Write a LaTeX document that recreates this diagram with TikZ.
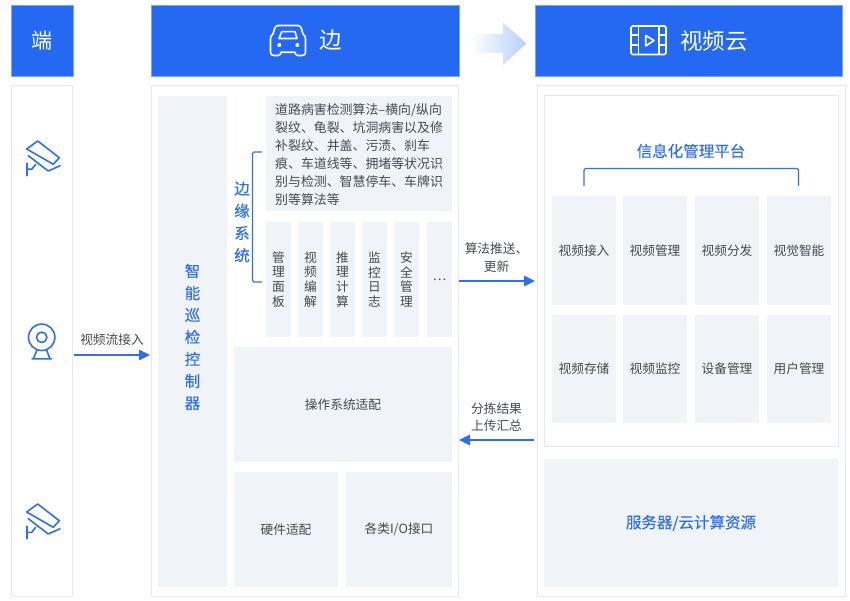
\documentclass[tikz,border=0pt]{standalone}
\usepackage{fontspec}
\setmainfont{Noto Sans CJK SC}
\newfontfamily\bluefont[FakeBold=0.3]{Noto Sans CJK SC}
\usetikzlibrary{arrows.meta}
\definecolor{headblue}{HTML}{2569F2}
\definecolor{linkblue}{HTML}{2F6FEB}
\definecolor{panelline}{HTML}{E4E9F0}
\definecolor{cellgray}{HTML}{F0F3F7}
\definecolor{textgray}{HTML}{444A52}
\tikzset{
   headbox/.style={fill=headblue,draw=headblue!60,line width=.5pt,inner sep=0pt,outer sep=0pt},
   panelbox/.style={fill=white,draw=panelline,line width=1pt,inner sep=0pt,outer sep=0pt},
   cellbox/.style={fill=cellgray,inner sep=0pt,outer sep=0pt,text=textgray,font=\fontsize{12.7}{15}\selectfont,align=center},
   vertcell/.style={cellbox,minimum width=25,minimum height=115,font=\fontsize{12.7}{14.7}\selectfont},
   gridcell/.style={cellbox,minimum width=64.5,minimum height=108},
   headtext/.style={text=white,font=\fontsize{22.5}{26}\selectfont,inner sep=0pt},
   bluetext/.style={text=linkblue,inner sep=0pt,align=center},
   graytext/.style={text=textgray,inner sep=0pt,align=center,font=\fontsize{12.7}{17.5}\selectfont},
   flow/.style={linkblue,line width=1.3pt,-{Triangle[length=11pt,width=10.5pt]}},
   bracket/.style={linkblue,line width=1.2pt,rounded corners=1.5pt},
   icon/.style={line width=1.6pt,line join=round,line cap=round},
   pics/roadcam/.style={code={
      \draw[icon,linkblue] (-4.3,-17) -- (17.3,-.3) -- (11.3,6.3) -- (-15.3,-9) -- cycle;
      \draw[icon,linkblue] (-13.7,-2.3) -- (6.3,13) -- (18,7.7);
      \draw[icon,linkblue] (-15.3,5.3) -- (-15.3,17.7);
      \draw[icon,linkblue] (-15.3,11.3) -- (-10.3,11.3) -- (-6.3,6.3);
   }},
}
\begin{document}
\begin{tikzpicture}[x=1pt,y=-1pt]
   \useasboundingbox (0,0) rectangle (850,601);

   % headers
   \node[headbox,minimum width=62,minimum height=71] (duanhead) at (42,40.5) {};
   \node[headbox,minimum width=308,minimum height=71] (bianhead) at (305,40.5) {};
   \node[headbox,minimum width=307,minimum height=71] (yunhead) at (688.5,40.5) {};
   \node[headtext,font=\fontsize{21}{25}\selectfont] (duantext) at (42,40.5) {端};
   \node[headtext] (biantext) at (331,40.5) {边};
   \node[headtext] (yuntext) at (714,40.5) {视频云};

   % outer panels
   \node[panelbox,minimum width=61,minimum height=510] (duanpanel) at (42,341) {};
   \node[panelbox,minimum width=307,minimum height=510] (bianpanel) at (304.5,341) {};
   \node[panelbox,minimum width=308,minimum height=510] (yunpanel) at (691,341) {};
   \node[panelbox,minimum width=294,minimum height=350] (infopanel) at (691,271) {};

   % edge side
   \node[cellbox,minimum width=69,minimum height=491] (ctrl) at (192.5,341.5) {};
   \node[bluetext,font=\bluefont\fontsize{15.5}{22}\selectfont] (ctrltext) at (192.5,337) {智\\能\\巡\\检\\控\\制\\器};
   \node[cellbox,minimum width=186,minimum height=115] (algo) at (359,153.5) {};
   \node[graytext,font=\fontsize{12.9}{18}\selectfont,align=left,anchor=north west] (algotext) at (275,103.5)
      {道路病害检测算法--横向/纵向\\裂纹、龟裂、坑洞病害以及修\\补裂纹、井盖、污渍、刹车\\痕、车道线等、拥堵等状况识\\别与检测、智慧停车、车牌识\\别等算法等};
   \node[bluetext,font=\bluefont\fontsize{15.5}{22.3}\selectfont] (sys) at (242,222) {边\\缘\\系\\统};
   \foreach \x/\n/\t in {278.5/a/管\\理\\面\\板,310.5/b/视\\频\\编\\解,342.5/c/推\\理\\计\\算,374.5/d/监\\控\\日\\志,406.5/e/安\\全\\管\\理,439.5/f/…}
   {
      \node[vertcell] (mod\n) at (\x,279.5) {\t};
   }
   \node[cellbox,minimum width=218,minimum height=115] (os) at (343,404.5) {操作系统适配};
   \node[cellbox,minimum width=104,minimum height=115] (hw) at (286,529.5) {硬件适配};
   \node[cellbox,minimum width=106,minimum height=115] (io) at (399,529.5) {各类I/O接口};
   \draw[bracket] (262,152) -- (252.5,152) -- (252.5,282) -- (262,282);

   % cloud side
   \node[bluetext,font=\bluefont\fontsize{15.5}{18}\selectfont] (infotitle) at (691,151) {信息化管理平台};
   \draw[bracket] (584,186) -- (584,168.5) -- (798.5,168.5) -- (798.5,186);
   \foreach \x/\n/\t in {584/a/视频接入,655/b/视频管理,727/c/视频分发,799/d/视觉智能}
   {
      \node[gridcell] (top\n) at (\x,250.5) {\t};
   }
   \foreach \x/\n/\t in {584/a/视频存储,655/b/视频监控,727/c/设备管理,799/d/用户管理}
   {
      \node[gridcell] (bot\n) at (\x,369) {\t};
   }
   \node[cellbox,minimum width=294,minimum height=128,text=linkblue,font=\bluefont\fontsize{15.5}{18}\selectfont] (server) at (691,523) {\raisebox{-2pt}{服务器/云计算资源}};

   % connectors
   \coordinate (inA) at (74,355);
   \coordinate (inB) at (150,355);
   \coordinate (pushA) at (459,281);
   \coordinate (pushB) at (535,281);
   \coordinate (upA) at (534,440);
   \coordinate (upB) at (459,440);
   \draw[flow] (inA) -- (inB);
   \draw[flow] (pushA) -- (pushB);
   \draw[flow] (upA) -- (upB);
   \node[graytext] (inlabel) at (112,340) {视频流接入};
   \node[graytext] (pushlabel) at (496.5,257.5) {算法推送、\\更新};
   \node[graytext] (uplabel) at (496.5,417) {分拣结果\\上传汇总};

   % big arrow
   \shade[left color=white,right color=headblue!32] (470,34) -- (503,34) -- (503,22.5) -- (526.5,43.5) -- (503,65) -- (503,53) -- (470,53) -- cycle;

   % icons
   \path (42,158) pic {roadcam};
   \path (42,521) pic {roadcam};
   \draw[icon,linkblue] (41.7,337.3) circle (13.2);
   \draw[icon,linkblue] (41.7,337.3) circle (5.2);
   \draw[icon,linkblue] (37,350) -- (33.5,358.5) (46.5,350) -- (50,358.5) (32,358.8) -- (51.5,358.8);
   % car
   \draw[icon,white] (278,25.5) -- (298,25.5) .. controls (300,25.5) and (301,27) .. (301.5,29) -- (303,34)
      .. controls (305,35.5) and (305.5,37) .. (305.5,39) -- (305.5,52) .. controls (305.5,54.5) and (304.5,55.5) .. (302,55.5) -- (298,55.5) .. controls (296,55.5) and (295.5,54) .. (295,52.3)
      -- (281,52.3) .. controls (280.5,54) and (280,55.5) .. (278,55.5) -- (274,55.5) .. controls (271.5,55.5) and (270.5,54.5) .. (270.5,52) -- (270.5,39)
      .. controls (270.5,37) and (271,35.5) .. (273,34) -- (274.5,29) .. controls (275,27) and (276,25.5) .. (278,25.5) -- cycle;
   \draw[icon,white] (281.7,31.7) -- (295,31.7) -- (297,38.5) -- (279,38.5) -- cycle;
   \fill[white] (279.3,45) circle (2) (297.3,45) circle (2);
   % film
   \draw[icon,white,rounded corners=1.5pt] (631,26) rectangle (666,54.5);
   \draw[icon,white] (638.5,26) -- (638.5,54.5) (659,26) -- (659,54.5);
   \draw[icon,white] (631,35) -- (638.5,35) (631,45) -- (638.5,45) (659,35) -- (666,35) (659,45) -- (666,45);
   \draw[icon,white] (645.7,35.5) -- (654,40.5) -- (645.7,46) -- cycle;
\end{tikzpicture}
\end{document}
